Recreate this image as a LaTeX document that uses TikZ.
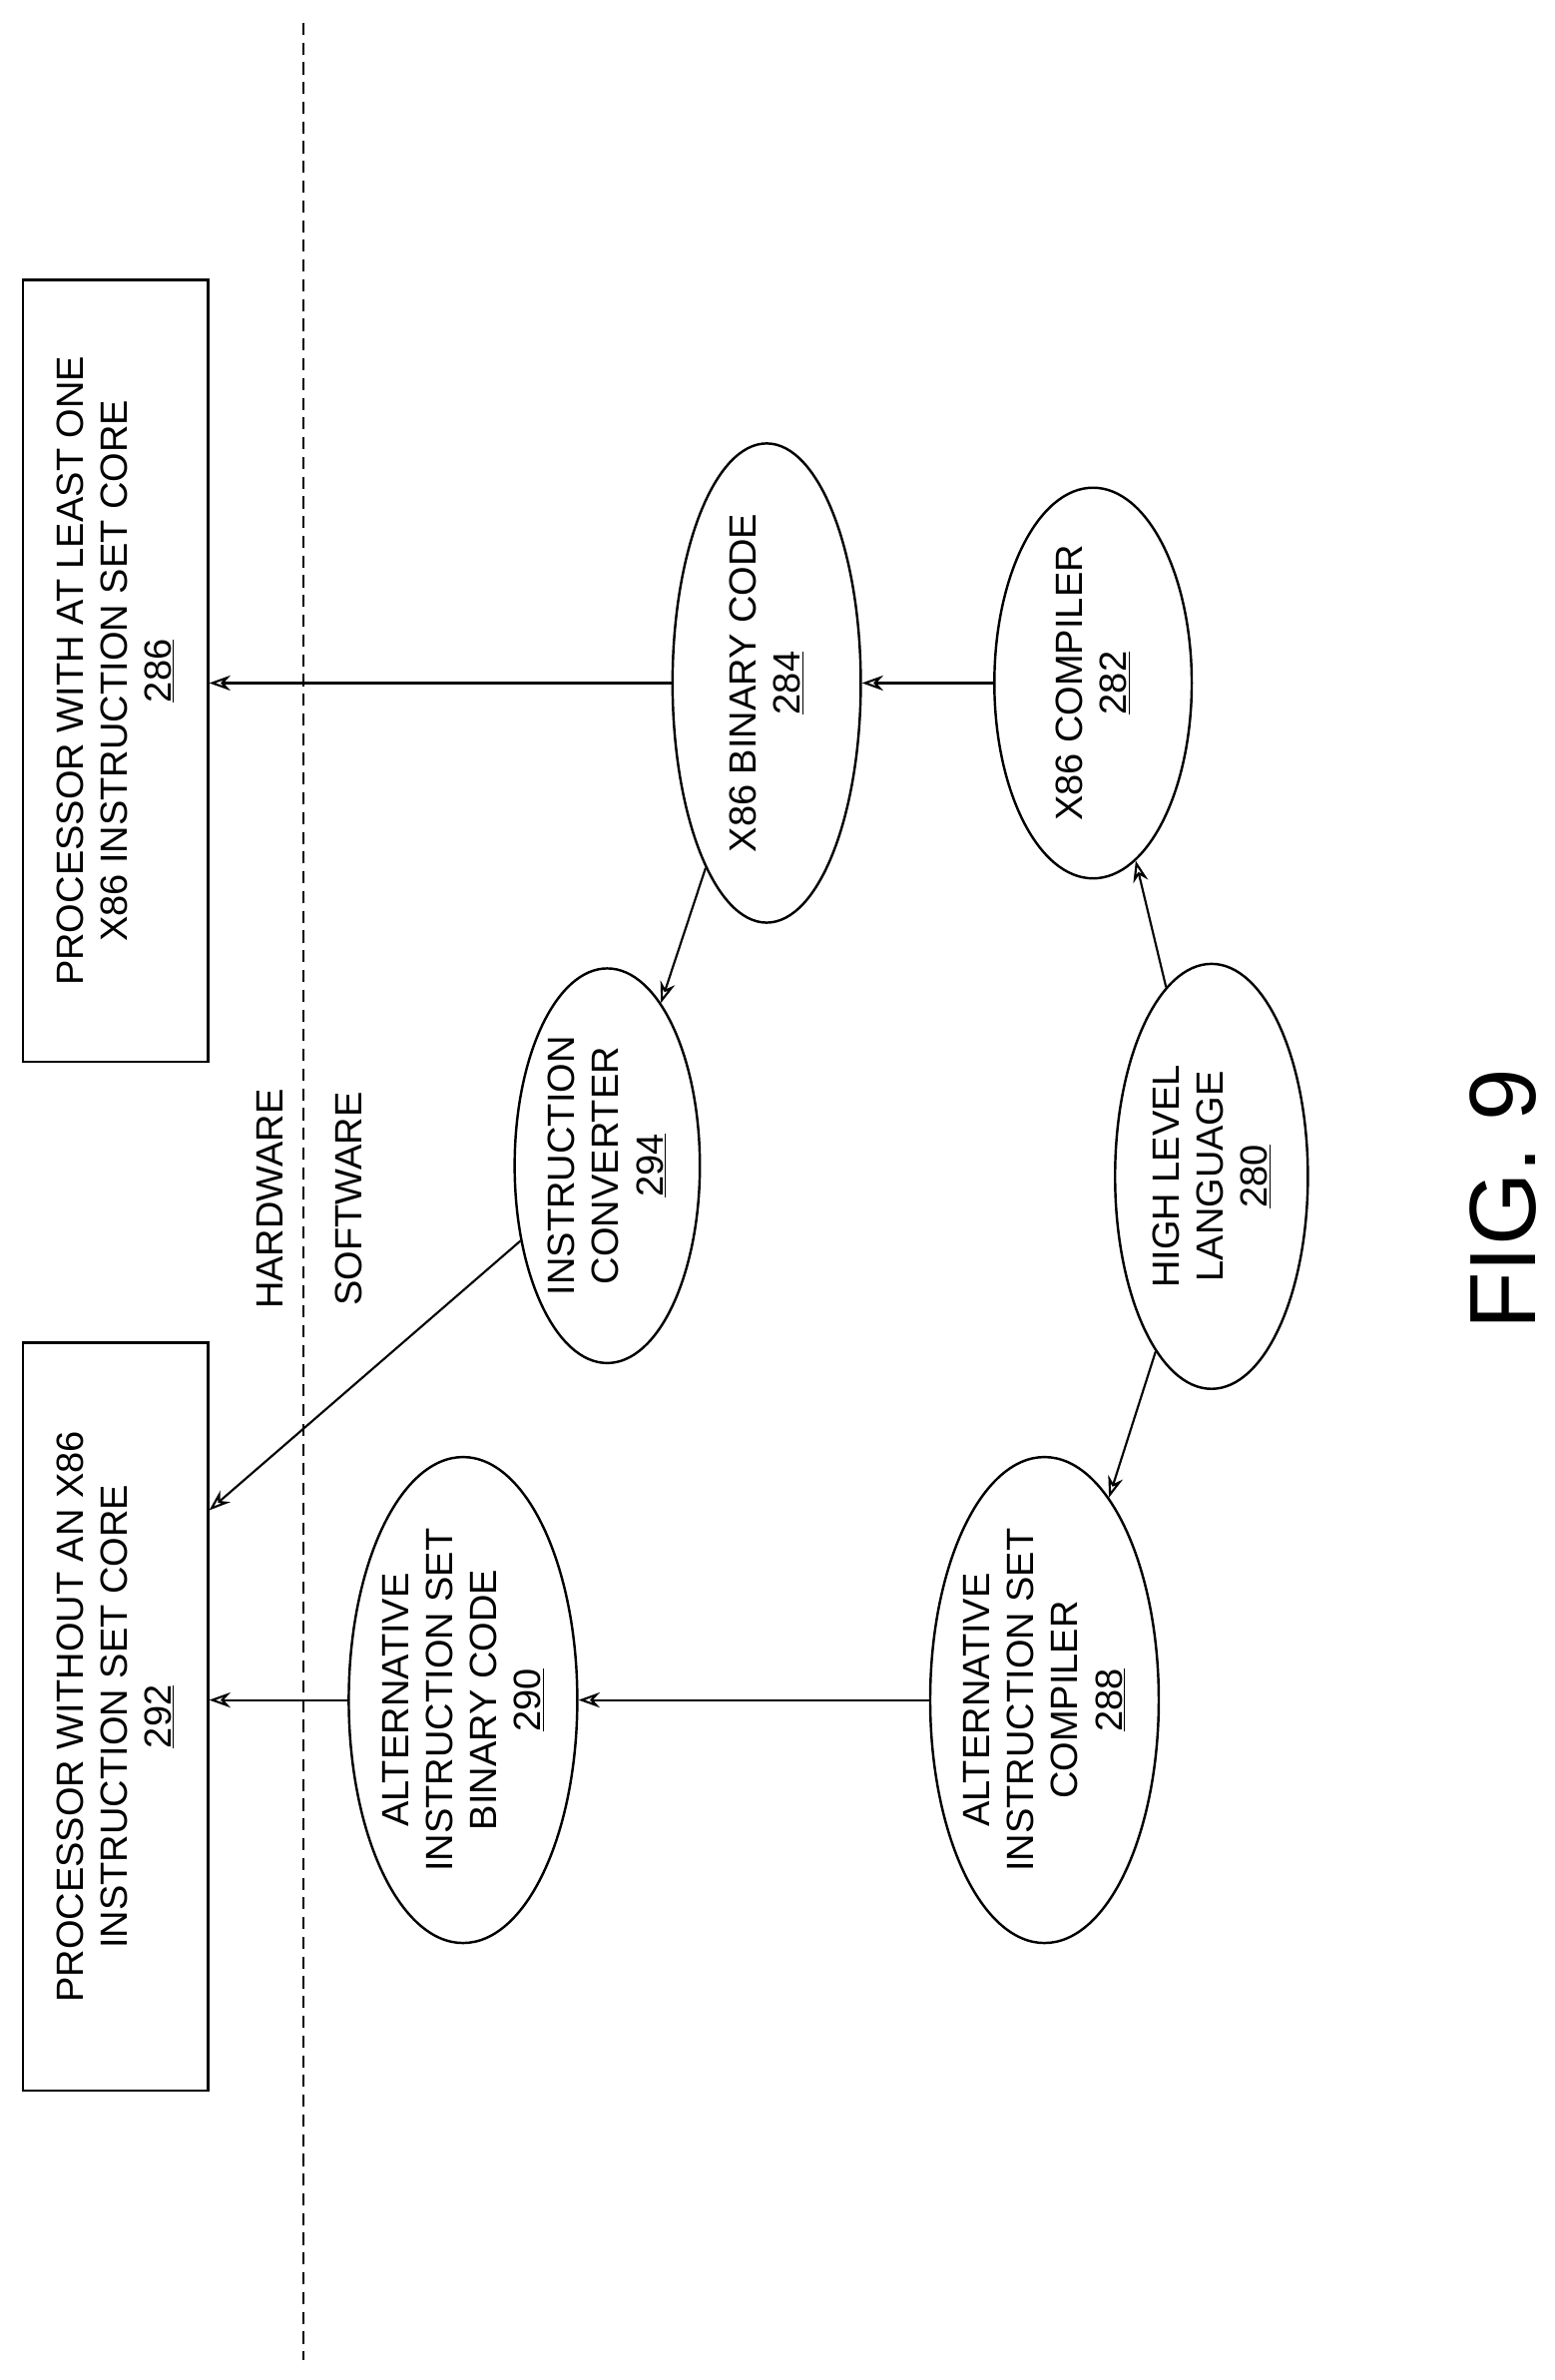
\documentclass[tikz,border=0pt]{standalone}
\usepackage{fontspec}
\setmainfont{Liberation Sans}
\usetikzlibrary{shapes.geometric,arrows.meta,calc}
\begin{document}
\begin{tikzpicture}[x=1pt,y=-1pt,
  txt/.style={rotate=90,align=center,font=\fontsize{25}{29}\selectfont},
  ell/.style={txt,draw,line width=1.6pt,ellipse,inner sep=0pt},
  box/.style={txt,draw,line width=1.6pt,rectangle,inner sep=0pt},
  arr/.style={line width=1.4pt,-{Stealth[length=14pt,width=10pt,open]}}]
\useasboundingbox (0,0) rectangle (1024,1568);
\draw[line width=1.2pt,dash pattern=on 8pt off 5pt] (200,15) -- (200,1555);
\node[box,minimum width=515,minimum height=122] (n286) at (76,442) {PROCESSOR WITH AT LEAST ONE\\X86 INSTRUCTION SET CORE\\\underline{286}};
\node[box,minimum width=493,minimum height=122] (n292) at (76,1131) {PROCESSOR WITHOUT AN X86\\INSTRUCTION SET CORE\\\underline{292}};
\node[txt] (hw) at (178,790) {HARDWARE};
\node[txt] (sw) at (230,790) {SOFTWARE};
\node[ell,minimum width=295,minimum height=124] (n284) at (505,450) {X86 BINARY CODE\\\underline{284}};
\node[ell,minimum width=255,minimum height=130] (n282) at (720,450) {X86 COMPILER\\\underline{282}};
\node[ell,minimum width=260,minimum height=122] (n294) at (400,768) {INSTRUCTION\\CONVERTER\\\underline{294}};
\node[ell,minimum width=280,minimum height=127] (n280) at (798,775) {HIGH LEVEL\\LANGUAGE\\\underline{280}};
\node[ell,minimum width=300,minimum height=130] (n290) at (305,1120) {ALTERNATIVE\\INSTRUCTION SET\\BINARY CODE\\\underline{290}};
\node[ell,minimum width=295,minimum height=135] (n288) at (688,1120) {ALTERNATIVE\\INSTRUCTION SET\\COMPILER\\\underline{288}};
\node[rotate=90,font=\fontsize{62}{70}\selectfont] (fig) at (990,790) {FIG. 9};
\draw[arr] (n284) -- (n284 -| n286.south);
\draw[arr] (n282) -- (n284);
\draw[arr] (n280) -- (n282);
\draw[arr] (n284) -- (n294);
\draw[arr] (n294) -- ($(n292.south)+(0,-136)$);
\draw[arr] (n280) -- (n288);
\draw[arr] (n288) -- (n290);
\draw[arr] (n290) -- (n290 -| n292.south);
\end{tikzpicture}
\end{document}
